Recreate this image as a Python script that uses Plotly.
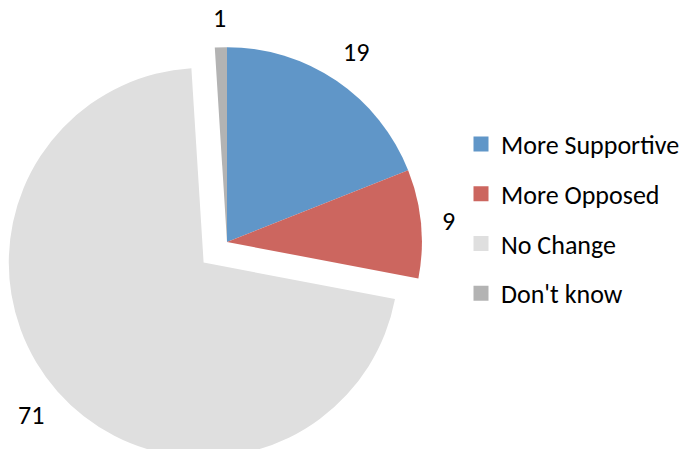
import math
import plotly.graph_objects as go

# Survey responses (percent)
categories = ["More Supportive", "More Opposed", "No Change", "Don't know"]
shares = [19, 9, 71, 1]

# Slice styling
slice_colors = ["#6096C8", "#CC665F", "#DFDFDF", "#B3B3B3"]
pull_out = [0, 0, 0.16, 0]

FONT = "Carlito, Calibri, Lato, sans-serif"

# Figure geometry (pixels)
FIG_W, FIG_H = 684, 468
M_TOP = 16
PIE_BOX_W = 454
PLOT_H = FIG_H - M_TOP

fig = go.Figure()

fig.add_trace(go.Pie(
    labels=categories,
    values=shares,
    sort=False,
    direction="clockwise",
    rotation=0,
    pull=pull_out,
    marker=dict(colors=slice_colors, line=dict(width=0)),
    textinfo="none",
    showlegend=False,
    hoverinfo="label+value",
    domain=dict(x=[0, PIE_BOX_W / FIG_W], y=[0, 1]),
))

# Value labels just outside each slice, following plotly's pie geometry
radius = min(PIE_BOX_W, PLOT_H) / (2 * (1 + max(pull_out)))
cx, cy = PIE_BOX_W / 2, M_TOP + PLOT_H / 2
total = sum(shares)
gap = 20
running = 0
for value, pull in zip(shares, pull_out):
    mid = (running + value / 2) / total * 2 * math.pi
    running += value
    sx, sy = math.sin(mid), -math.cos(mid)
    ox, oy = cx + pull * radius * sx, cy + pull * radius * sy
    text = str(value)
    half_w, half_h = 6.5 * len(text), 9
    dist = radius + gap + half_w * abs(sx) + half_h * abs(sy)
    px, py = ox + dist * sx, oy + dist * sy
    fig.add_annotation(
        x=px / FIG_W, y=(FIG_H - py) / PLOT_H,
        xref="paper", yref="paper",
        text=text, showarrow=False,
        xanchor="center", yanchor="middle",
        font=dict(family=FONT, size=26, color="#000000"),
    )

# Legend entries with square swatches, one group each so they can be spaced out
for name, color in zip(categories, slice_colors):
    fig.add_trace(go.Scatter(
        x=[None], y=[None],
        mode="markers",
        name=name,
        legendgroup=name,
        marker=dict(symbol="square", size=15, color=color),
        hoverinfo="skip",
    ))

fig.update_layout(
    width=FIG_W,
    height=FIG_H,
    margin=dict(l=0, r=0, t=M_TOP, b=0, autoexpand=False),
    paper_bgcolor="white",
    plot_bgcolor="white",
    xaxis=dict(visible=False),
    yaxis=dict(visible=False),
    legend=dict(
        x=461 / FIG_W, y=0.7688,
        xanchor="left", yanchor="top",
        traceorder="grouped",
        tracegroupgap=13,
        itemsizing="trace",
        font=dict(family=FONT, size=26, color="#000000"),
        bgcolor="rgba(0,0,0,0)",
    ),
)

fig.write_html(
    "out.html",
    post_script="document.documentElement.style.overflow='hidden';"
                "document.body.style.overflow='hidden';",
)
